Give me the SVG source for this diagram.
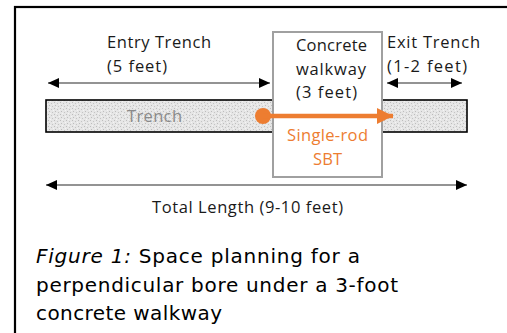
<svg xmlns="http://www.w3.org/2000/svg" width="507" height="333" viewBox="0 0 507 333">
<defs>
<pattern id="stip" width="6" height="6" patternUnits="userSpaceOnUse">
<rect width="6" height="6" fill="#e6e6e6"/>
<rect x="0" y="0" width="1" height="1" fill="#bdbdbd"/>
<rect x="3" y="1" width="1" height="1" fill="#c4c4c4"/>
<rect x="1" y="3" width="1" height="1" fill="#bdbdbd"/>
<rect x="4" y="4" width="1" height="1" fill="#c4c4c4"/>
<rect x="5" y="2" width="1" height="1" fill="#f4f4f4"/>
<rect x="2" y="5" width="1" height="1" fill="#f4f4f4"/>
</pattern>
<marker id="ah" viewBox="0 0 11 10" refX="11" refY="5" markerWidth="11" markerHeight="10" markerUnits="userSpaceOnUse" orient="auto-start-reverse">
<path d="M0,0 L11,5 L0,10 Z" fill="#000"/>
</marker>
<marker id="oh" viewBox="0 0 16 16" refX="16" refY="8" markerWidth="16" markerHeight="16" markerUnits="userSpaceOnUse" orient="auto">
<path d="M0,0 L16,8 L0,16 Z" fill="#ED7D31"/>
</marker>
</defs>
<style>
.lbl{font-family:"Open Sans","Liberation Sans",sans-serif;font-size:16.5px;fill:#1a1a1a}
.org{font-family:"Open Sans","Liberation Sans",sans-serif;font-size:16.5px;fill:#ED7D31}
.cap{font-family:"DejaVu Sans","Liberation Sans",sans-serif;font-size:20px;fill:#000}
.dim{stroke:#6f6f6f;stroke-width:1.5;fill:none;marker-start:url(#ah);marker-end:url(#ah)}
</style>
<rect x="15" y="7" width="500" height="340" fill="#fff" stroke="#000" stroke-width="2.2"/>
<g id="trench">
<rect x="46" y="100" width="421" height="32" fill="url(#stip)" stroke="#000" stroke-width="1.6"/>
<text x="127" y="122" textLength="55" style="font-family:'Open Sans','Liberation Sans',sans-serif;font-size:16.5px;fill:#8a8a8a">Trench</text>
</g>
<g id="walkway">
<rect x="273" y="32" width="109" height="145" fill="#fff" stroke="#a0a0a0" stroke-width="2"/>
<text class="lbl" x="296" y="51" textLength="71">Concrete</text>
<text class="lbl" x="296" y="75" textLength="70">walkway</text>
<text class="lbl" x="296" y="98" textLength="61">(3 feet)</text>
<text class="org" x="287" y="141" textLength="81">Single-rod</text>
<text class="org" x="313" y="165" textLength="29">SBT</text>
</g>
<g id="entry-label">
<text class="lbl" x="107" y="48" textLength="104">Entry Trench</text>
<text class="lbl" x="107" y="72" textLength="60">(5 feet)</text>
</g>
<g id="exit-label">
<text class="lbl" x="387" y="48" textLength="93">Exit Trench</text>
<text class="lbl" x="387" y="72" textLength="80">(1-2 feet)</text>
</g>
<g id="total-label">
<text class="lbl" x="152" y="213" textLength="191">Total Length (9-10 feet)</text>
</g>
<g id="connectors">
<line class="dim" x1="48" y1="83" x2="270" y2="83"/>
<line class="dim" x1="387" y1="83" x2="462" y2="83"/>
<line class="dim" x1="46" y1="185" x2="467" y2="185"/>
<circle cx="263" cy="116" r="8" fill="#ED7D31"/>
<line x1="263" y1="116" x2="393" y2="116" stroke="#ED7D31" stroke-width="4.5" marker-end="url(#oh)"/>
</g>
<g id="caption">
<text class="cap" x="36" y="263" textLength="324"><tspan font-style="italic">Figure 1:</tspan> Space planning for a</text>
<text class="cap" x="36" y="292" textLength="362">perpendicular bore under a 3-foot</text>
<text class="cap" x="36" y="320" textLength="186">concrete walkway</text>
</g>
</svg>
